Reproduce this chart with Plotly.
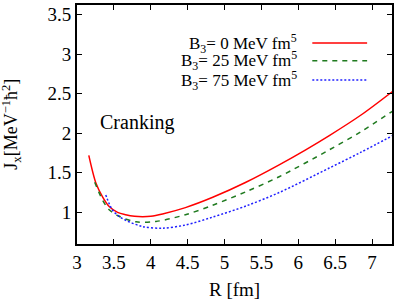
import plotly.graph_objects as go

# Data
r_b0 = [3.16, 3.26, 3.35, 3.44, 3.55, 3.66, 3.78, 3.89, 4.0, 4.16, 4.47, 4.84, 5.29, 5.74, 6.1, 6.42, 6.85, 7.28]
j_b0 = [1.72, 1.36, 1.19, 1.07, 1.00, 0.97, 0.95, 0.945, 0.95, 0.98, 1.06, 1.19, 1.38, 1.60, 1.79, 1.97, 2.23, 2.53]

r_b25 = [3.24, 3.35, 3.44, 3.57, 3.8, 4.07, 4.47, 4.84, 5.29, 5.74, 6.42, 6.85, 7.28]
j_b25 = [1.38, 1.15, 1.03, 0.95, 0.88, 0.885, 0.97, 1.09, 1.26, 1.45, 1.79, 2.02, 2.28]

r_b75 = [3.39, 3.48, 3.57, 3.66, 3.89, 4.16, 4.47, 4.84, 5.29, 5.74, 6.42, 6.85, 7.28]
j_b75 = [1.22, 1.03, 0.95, 0.90, 0.82, 0.80, 0.84, 0.94, 1.08, 1.25, 1.56, 1.76, 1.97]

labels = ["B<sub>3</sub>= 0 MeV fm<sup>5</sup>",
          "B<sub>3</sub>= 25 MeV fm<sup>5</sup>",
          "B<sub>3</sub>= 75 MeV fm<sup>5</sup>"]
colors = ["#ff0000", "#1f7a1f", "#1f1fff"]
dashes = ["solid", "5px,5px", "2px,2px"]

FONT = "Liberation Serif"

fig = go.Figure()
for r, j, c, d in zip([r_b0, r_b25, r_b75], [j_b0, j_b25, j_b75], colors, dashes):
    fig.add_trace(go.Scatter(x=r, y=j, mode="lines",
                             line=dict(color=c, width=1.5, dash=d, shape="spline", smoothing=0.9),
                             showlegend=False, hoverinfo="skip"))

# manual gnuplot-style legend (text left, sample right)
leg_y = [0.841, 0.767, 0.686]
for lab, c, d, yy in zip(labels, colors, dashes, leg_y):
    fig.add_annotation(x=0.706, y=yy, xref="paper", yref="paper", text=lab,
                       showarrow=False, xanchor="right", yanchor="middle",
                       font=dict(family=FONT, size=17, color="black"))
    fig.add_shape(type="line", xref="paper", yref="paper", x0=0.747, x1=0.921, y0=yy, y1=yy,
                  line=dict(color=c, width=1.5, dash=d))

fig.add_annotation(x=3.82, y=2.14, xref="x", yref="y", text="Cranking", showarrow=False,
                   font=dict(family=FONT, size=20, color="black"))

fig.add_annotation(x=-0.209, y=0.5, xref="paper", yref="paper",
                   text="J<sub>x</sub>[MeV<sup>−1</sup>ħ<sup>2</sup>]", textangle=-90,
                   showarrow=False, xanchor="center", yanchor="middle",
                   font=dict(family=FONT, size=18, color="black"))
fig.add_annotation(x=0.5, y=-0.191, xref="paper", yref="paper", text="R [fm]",
                   showarrow=False, xanchor="center", yanchor="middle",
                   font=dict(family=FONT, size=19, color="black"))

axis_common = dict(showline=True, linecolor="black", linewidth=2, mirror="ticks",
                   ticks="inside", ticklen=5, tickwidth=1, tickcolor="black",
                   showgrid=False, zeroline=False,
                   tickfont=dict(family=FONT, size=19, color="black"))
fig.update_xaxes(range=[3, 7.27], tick0=3, dtick=0.5, **axis_common)
fig.update_yaxes(range=[0.6, 3.62], tick0=0.5, dtick=0.5, **axis_common)

fig.update_layout(width=397, height=300, margin=dict(l=77, r=4, t=3, b=56),
                  paper_bgcolor="white", plot_bgcolor="white",
                  font=dict(family=FONT, size=18, color="black"))

fig.write_html("out.html", config={"displayModeBar": False},
               post_script="document.body.style.margin='0';document.body.style.padding='0';")
